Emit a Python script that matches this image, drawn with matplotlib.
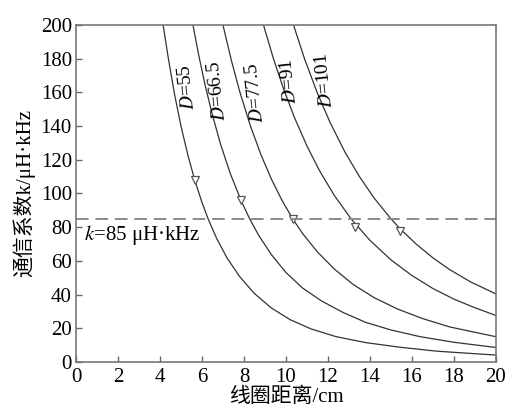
import matplotlib.pyplot as plt

plt.rcParams['font.family'] = ['Liberation Serif', 'Noto Sans CJK SC']
plt.rcParams['mathtext.fontset'] = 'stix'

# ===== 数据=====
d_labels = ["55", "66.5", "77.5", "91", "101"]

x_d55 = [4.15, 4.4, 4.7, 5.0, 5.33, 5.66, 6.0, 6.29, 6.7, 7.2, 7.8, 8.5, 9.3, 10.2, 11.2, 12.4, 13.8, 15.4, 17.2, 20]
k_d55 = [200, 180, 158.5, 140, 122.7, 107.8, 94.7, 85, 73.3, 61.6, 50.6, 40.6, 32.1, 25.1, 19.6, 15, 11.5, 8.8, 6.4, 4.1]

x_d66 = [5.57, 5.85, 6.15, 6.5, 6.9, 7.35, 7.88, 8.27, 8.7, 9.3, 10.0, 10.8, 11.7, 12.7, 13.8, 15.0, 16.4, 18.0, 20]
k_d66 = [200, 181.8, 164.3, 146.4, 128.7, 111.8, 95.3, 85, 75.2, 63.8, 53.1, 43.8, 36.2, 29.5, 23.5, 19, 15, 11.7, 8.6]

x_d77 = [7.0, 7.4, 7.8, 8.3, 8.8, 9.3, 9.8, 10.32, 10.8, 11.5, 12.3, 13.2, 14.2, 15.3, 16.5, 17.8, 20]
k_d77 = [200, 179, 160.4, 140.4, 123.3, 108.7, 96.2, 85, 76.1, 65.3, 55.2, 46, 38.2, 31.5, 25.8, 20.8, 15]

x_d91 = [8.93, 9.4, 9.9, 10.4, 11.0, 11.6, 12.3, 13.1, 14.0, 15.0, 16.0, 17.0, 18.0, 19.0, 20]
k_d91 = [200, 180.2, 161.6, 145.2, 128.2, 113.5, 98.9, 85, 72.2, 60.6, 51.3, 43.6, 37.3, 32.2, 27.6]

x_d101 = [10.36, 10.9, 11.5, 12.1, 12.8, 13.5, 14.2, 15.0, 15.45, 16.2, 17.0, 17.8, 18.8, 20]
k_d101 = [200, 179.4, 159.5, 142.2, 124.8, 110, 97.3, 85, 78.9, 70, 61.8, 54.8, 47.5, 40.4]

# 标记点（倒三角）
mark_x = [5.66, 7.88, 10.33, 13.3, 15.45]
mark_k = [108, 96, 85, 80, 78]

# 曲线标注位置
label_x = [5.3, 6.72, 8.53, 10.17, 11.83]
label_k = [163, 161, 160, 167, 167]

k_limit = 85

# ===== 绘图 =====
fig = plt.figure(figsize=(5.05, 4.12), dpi=100)
ax = fig.add_axes([0.1505, 0.1214, 0.8315, 0.8179])

curves = [(x_d55, k_d55), (x_d66, k_d66), (x_d77, k_d77), (x_d91, k_d91), (x_d101, k_d101)]
for xs, ks in curves:
    ax.plot(xs, ks, color="#333333", linewidth=0.9)

ax.plot(mark_x, mark_k, linestyle="none", marker="v", markersize=6,
        markerfacecolor="white", markeredgecolor="#555555", markeredgewidth=0.9)

ax.axhline(k_limit, color="#8a8a8a", linewidth=1.4, dashes=(6.5, 3.5))

for lx, lk, lab in zip(label_x, label_k, d_labels):
    ax.text(lx, lk, r"$D$=" + lab, rotation=96, fontsize=14,
            ha="center", va="center", color="black")

ax.text(0.4, 75.5, r"$k$=85 μH·kHz", fontsize=15, ha="left", va="center")

ax.set_xlim(0, 20)
ax.set_ylim(0, 200)
ax.set_xticks(range(0, 21, 2))
ax.set_yticks(range(0, 201, 20))
ax.tick_params(direction="in", length=4, width=1, color="#666666",
               labelsize=15, top=False, right=False)
ax.tick_params(axis="x", pad=4)
ax.tick_params(axis="y", pad=3)
for sp in ax.spines.values():
    sp.set_color("#777777")
    sp.set_linewidth(1.2)

ax.set_xlabel("线圈距离/cm", fontsize=15, labelpad=1)
ax.set_ylabel("通信系数k/μH·kHz", fontsize=15, labelpad=4)

fig.savefig("out.png", dpi=100)
